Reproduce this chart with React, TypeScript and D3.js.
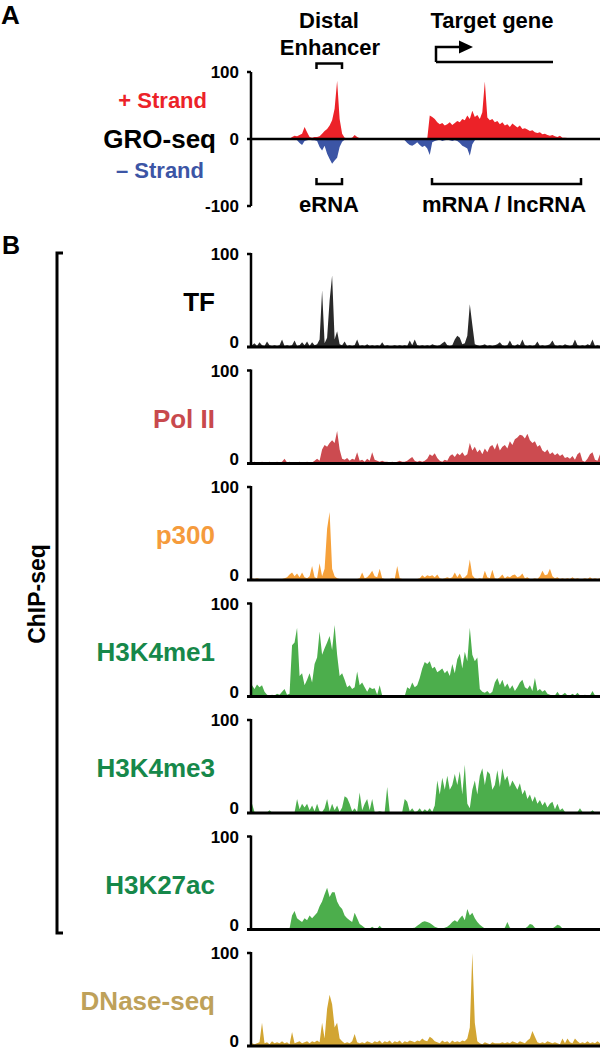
import React from "react";
import * as d3 from "d3";

// ---------- DATA (bins along the locus, values 0-100) ----------
const groPlus = [
  0,0,0,0,0,0,0,0,0,0,0,0,0,0,0,0,3,5,4,6,
  8,18,10,3,2,3,3,4,8,12,15,20,28,45,87,30,8,2,1,1,
  2,6,3,1,1,0.5,1,1,0.5,1,1,0.5,1,1,0.5,1,1,0.5,1,1,
  0.5,1,0.5,0.5,0.5,0.5,0.5,0.5,0.5,0.5,0.5,35,33,30,25,22,24,20,22,25,
  21,24,27,25,30,28,35,30,42,33,36,30,40,86,32,28,30,25,27,22,
  25,20,22,18,23,20,17,20,15,16,14,12,13,10,9,10,7,8,6,5,
  6,4,3,5,2,2,1.5,1,1,1,1,1,1,1,1,1,1,1,1,1,
];
const groMinus = [
  0,0,0,0,0,0,0,0,0,0,0,0,0,0,0,0,0,0,-2,-6,
  -9,-3,-2,-1,-2,-2,-3,-12,-17,-10,-22,-30,-37,-32,-28,-12,-4,-1,0,0,
  0,0,0,0,0,0,0,0,0,0,0,0,0,0,0,0,0,0,0,0,
  0,-2,-6,-9,-10,-8,-5,-9,-12,-10,-14,-24,-5,-3,-2,-1,-3,-2,-1,-2,
  -3,-2,-3,-6,-10,-12,-14,-25,-8,-2,0,0,0,0,0,0,0,0,0,0,
  0,0,0,0,0,0,0,0,0,0,0,0,0,0,0,0,0,0,0,0,
  0,0,0,0,0,0,0,0,0,0,0,0,0,0,0,0,0,0,0,0,
];
const tfValues = [
  2,4,1,5,2,1,6,2,1,2,1,2,8,1,2,1,2,7,1,2,
  5,2,6,1,5,2,3,8,61,4,10,50,77,8,17,3,2,6,1,2,
  1,2,8,1,2,1,3,1,2,1,2,1,5,1,2,1,1,2,1,2,
  1,2,1,7,2,8,2,1,2,1,2,1,3,2,1,2,4,6,2,1,
  2,8,12,10,3,4,12,46,24,3,2,1,2,3,1,2,1,2,3,5,
  2,1,2,7,2,1,3,2,8,2,1,2,1,2,6,1,2,1,2,3,
  7,2,1,2,1,3,2,1,2,8,2,1,2,1,3,2,8,1,2,1,
];
const polIIValues = [
  1,2,1,1,2,1,1,2,1,1,2,1,2,5,1,2,1,0,1,2,
  1,1,2,1,1,3,5,3,15,20,18,22,25,22,35,15,5,4,6,3,
  5,4,12,3,4,2,5,3,12,4,3,2,3,2,2,1,2,1,2,3,
  2,2,3,5,7,3,2,3,2,3,5,10,8,11,6,3,2,4,3,8,
  10,7,11,9,12,8,10,22,14,18,12,15,10,16,12,18,20,15,22,14,
  18,20,16,24,20,26,28,31,30,27,32,25,22,24,18,20,14,12,15,10,
  12,9,11,8,10,6,7,5,8,4,10,12,3,2,5,10,12,4,3,10,
];
const p300Values = [
  2,1,2,1,1,0.5,1,0.5,1,1,0.5,1,1,2,3,6,8,4,7,3,
  8,3,2,4,15,3,2,18,4,12,55,73,12,4,2,1,1,0.5,1,1,
  0.5,1,1,2,8,2,3,6,10,4,3,12,2,1,1,1,2,1,15,2,
  1,0.5,1,1,0.5,1,1,2,5,3,5,4,5,3,6,2,1,2,3,2,
  3,8,3,7,2,3,6,22,5,2,1,2,1,10,3,2,11,2,1,3,
  6,2,4,3,5,6,3,4,7,2,3,1,1,2,1,4,10,5,6,12,
  4,2,3,1,2,1,2,1,3,1,2,1,1,2,1,3,1,2,1,2,
];
const h3k4me1Values = [
  12,8,13,10,12,5,2,1,2,1,3,2,5,8,2,3,55,58,74,22,
  25,12,18,25,15,35,42,70,45,52,58,65,50,77,45,22,25,18,10,12,
  8,10,27,12,15,10,5,10,8,9,2,12,1,0.5,1,0.5,0.5,1,0.5,0.5,
  1,0.5,10,8,15,10,12,20,30,37,35,38,30,32,26,28,30,25,28,22,
  35,25,40,46,30,48,38,74,45,38,42,8,5,4,6,3,5,15,20,12,
  18,10,14,8,12,6,10,15,18,10,8,12,6,20,6,8,5,7,3,2,
  1,1,5,1,2,4,1,1,3,1,4,1,1,2,1,1,6,1,1,0.5,
];
const h3k4me3Values = [
  10,1,0.5,0.5,0.5,0.5,0.5,3,0.5,0.5,0.5,0.5,0.5,0.5,0.5,0.5,0.5,0.5,15,4,
  10,6,10,3,8,2,10,2,1,5,15,2,10,3,8,1,6,18,16,10,
  2,5,1,22,3,10,15,3,15,1,1,2,1,1,28,1,1,0.5,1,0.5,
  1,15,12,2,5,1,2,5,1,4,2,5,1,8,35,20,38,25,40,25,
  30,42,30,45,20,52,10,5,25,35,20,40,48,30,45,42,25,30,46,28,
  48,35,40,28,35,30,25,32,20,25,15,20,12,18,10,14,8,12,6,10,
  12,4,10,3,5,1,1,0.5,1,0.5,1,5,1,0.5,1,0.5,3,0.5,0.5,1,
];
const h3k27acValues = [
  1,0.5,1,1.5,1,0.5,1,1,0.5,1,1.5,1,0.5,1,1,1,15,20,12,10,
  8,12,10,15,12,15,18,25,30,38,45,35,40,40,30,25,22,15,12,10,
  8,18,12,6,4,2,1,1,3,1,1,4,1,0.5,1,0.5,1,0.5,1,0.5,
  1,0.5,1,1,1.5,2,4,6,8,9,8,7,5,3,2,1,1,2,3,5,
  8,10,8,12,15,10,22,15,18,12,8,5,3,1,1,1,1,1,1,1,
  1,2,8,2,1,1,1,1,1,1,3,6,5,2,1,1,1,1,1,1,
  1,3,5,4,1,0.5,1,0.5,1,0.5,1,0.5,1,0.5,1,0.5,1,0.5,1,0.5,
];
const dnaseValues = [
  3,2,3,4,25,3,4,2,5,3,4,3,5,3,4,2,15,3,4,5,
  3,4,5,3,5,4,6,4,25,8,40,55,45,20,25,8,5,3,4,3,
  5,13,4,3,4,3,5,4,3,5,4,6,3,5,4,6,3,5,4,6,
  3,5,4,6,5,4,6,5,8,6,5,10,8,5,4,3,6,4,5,3,
  6,4,5,4,6,5,8,20,100,25,5,3,2,4,3,2,4,3,3,3,
  4,3,4,3,5,4,3,5,4,3,6,8,16,10,4,3,4,3,5,4,
  3,4,3,2,8,3,8,4,3,8,5,3,4,3,5,3,4,3,5,3,
];

const trackNames = ["TF", "Pol II", "p300", "H3K4me1", "H3K4me3", "H3K27ac", "DNase-seq"];
const trackData = [tfValues, polIIValues, p300Values, h3k4me1Values, h3k4me3Values, h3k27acValues, dnaseValues];
const trackFill = ["#2a2a2a", "#cc4b50", "#f6a13a", "#4cae4c", "#4cae4c", "#4cae4c", "#d2a532"];
const trackLabelColor = ["#000000", "#c8494d", "#f59b3c", "#16884a", "#16884a", "#16884a", "#bea15a"];
const groTicks = [100, 0, -100];
const trackTicks = [100, 0];

const FONT = "'Liberation Sans', Arial, Helvetica, sans-serif";

export default function App() {
  const N = tfValues.length;
  const x = d3.scaleLinear().domain([0, N - 1]).range([252, 600]);
  const groY = d3.scaleLinear().domain([-100, 100]).range([206, 72]);
  const trackTop = d3.scaleLinear().domain([0, 6]).range([254, 953]);
  const axisX = 251;

  const groArea = (vals: number[]) =>
    d3.area<number>().x((_, i) => x(i)).y0(groY(0)).y1((d) => groY(d))(vals) || "";

  return (
    <div style={{ position: "absolute", left: 0, top: 0 }}>
      <svg width={600} height={1050} style={{ display: "block" }} fontFamily={FONT} fontWeight="bold">
        <rect width={600} height={1050} fill="#fff" />
        {/* Panel labels */}
        <text x={1} y={24} fontSize={26}>A</text>
        <text x={2} y={254} fontSize={25}>B</text>

        {/* Gene annotations */}
        <text x={329} y={28} fontSize={22} textAnchor="middle">Distal</text>
        <text x={330} y={55} fontSize={22} textAnchor="middle">Enhancer</text>
        <path d="M316.5,69 V63.5 H342 V69" fill="none" stroke="#000" strokeWidth={2.5} />
        <text x={492} y={28} fontSize={22} textAnchor="middle">Target gene</text>
        <path d="M436,62 V47 H462" fill="none" stroke="#000" strokeWidth={2.5} />
        <polygon points="459,40.5 473,47 459,53.5" fill="#000" />
        <line x1={436} y1={62} x2={553} y2={62} stroke="#000" strokeWidth={2.5} />

        {/* GRO-seq */}
        <path d={groArea(groPlus)} fill="#ec2228" />
        <path d={groArea(groMinus)} fill="#3c55a5" />
        <line x1={axisX} y1={groY(100)} x2={axisX} y2={groY(-100)} stroke="#000" strokeWidth={2.5} />
        {groTicks.map((t) => (
          <g key={t}>
            <line x1={axisX - 4} y1={groY(t)} x2={t === 0 ? 600 : axisX} y2={groY(t)} stroke="#000" strokeWidth={2.5} />
            <text x={239} y={groY(t)} dy="0.36em" fontSize={17} textAnchor="end">{t}</text>
          </g>
        ))}
        <text x={207} y={108} fontSize={22} textAnchor="end" fill="#ec2228">+ Strand</text>
        <text x={216} y={148} fontSize={26} textAnchor="end">GRO-seq</text>
        <text x={204} y={178} fontSize={22} textAnchor="end" fill="#3c55a5">– Strand</text>
        <path d="M316.5,178 V184 H342 V178" fill="none" stroke="#000" strokeWidth={2.5} />
        <path d="M432,178 V184 H581 V178" fill="none" stroke="#000" strokeWidth={2.5} />
        <text x={329} y={212} fontSize={22} textAnchor="middle">eRNA</text>
        <text x={504} y={212} fontSize={22} textAnchor="middle">mRNA / lncRNA</text>

        {/* ChIP-seq bracket */}
        <path d="M63,253 H57 V933 H63" fill="none" stroke="#000" strokeWidth={3} />
        <text transform="translate(45,594) rotate(-90)" fontSize={23} textAnchor="middle">ChIP-seq</text>

        {/* Tracks */}
        {trackData.map((vals, k) => {
          const top = trackTop(k);
          const y = d3.scaleLinear().domain([0, 100]).range([top + 93, top]);
          const area = d3.area<number>().x((_, i) => x(i)).y0(y(0)).y1((d) => y(d))(vals) || "";
          return (
            <g key={trackNames[k]}>
              <path d={area} fill={trackFill[k]} />
              <line x1={axisX} y1={y(100) - 1} x2={axisX} y2={y(0)} stroke="#000" strokeWidth={2.5} />
              {trackTicks.map((t) => (
                <g key={t}>
                  <line x1={axisX - 4} y1={y(t)} x2={t === 0 ? 600 : axisX} y2={y(t)} stroke="#000" strokeWidth={t === 0 ? 3 : 2.5} />
                  <text x={239} y={t === 0 ? y(t) + 1 : y(t)} dy={t === 0 ? "0" : "0.36em"} fontSize={17} textAnchor="end">{t}</text>
                </g>
              ))}
              <text x={215} y={top + 57} fontSize={26} textAnchor="end" fill={trackLabelColor[k]}>{trackNames[k]}</text>
            </g>
          );
        })}
      </svg>
    </div>
  );
}
